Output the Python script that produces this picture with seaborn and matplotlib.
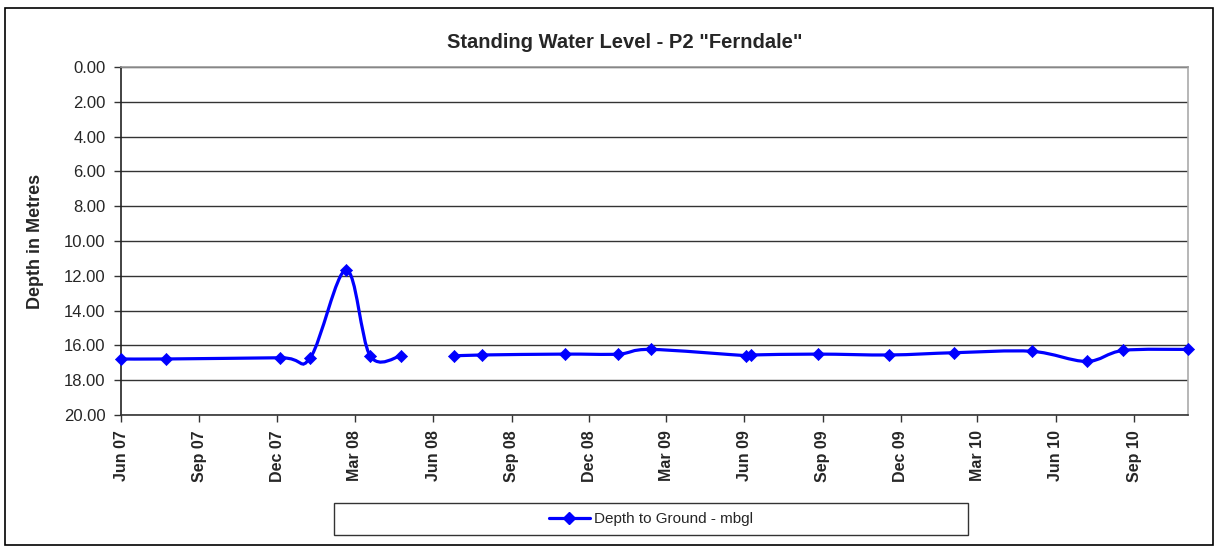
import matplotlib
matplotlib.use("Agg")
import matplotlib.pyplot as plt
import matplotlib.dates as mdates
from matplotlib.path import Path
from matplotlib.patches import PathPatch, Rectangle
from matplotlib.lines import Line2D
import numpy as np
import pandas as pd
import seaborn as sns

# two measurement runs (the gap between Apr 08 and Jun 08 is a break in the line)
dates_a = ["2007-06-01", "2007-07-24", "2007-12-05", "2008-01-09", "2008-02-20",
           "2008-03-19", "2008-04-24"]
depth_a = [16.78, 16.78, 16.71, 16.70, 11.66, 16.59, 16.61]

dates_b = ["2008-06-25", "2008-07-28", "2008-11-02", "2009-01-04", "2009-02-11",
           "2009-06-03", "2009-06-09", "2009-08-26", "2009-11-18", "2010-02-02",
           "2010-05-04", "2010-07-07", "2010-08-19", "2010-11-03"]
depth_b = [16.61, 16.55, 16.50, 16.50, 16.23, 16.59, 16.55, 16.50, 16.55, 16.42,
           16.34, 16.92, 16.29, 16.23]

y_ticks = [0, 2, 4, 6, 8, 10, 12, 14, 16, 18, 20]
series_name = "Depth to Ground - mbgl"
blue = "#0000FF"

sns.set_style("white")
plt.rcParams["font.family"] = ["Liberation Sans", "DejaVu Sans"]

df = pd.concat([
    pd.DataFrame({"date": pd.to_datetime(dates_a), "depth": depth_a, "run": "a"}),
    pd.DataFrame({"date": pd.to_datetime(dates_b), "depth": depth_b, "run": "b"}),
])

fig = plt.figure(figsize=(12.25, 5.48), dpi=100)
ax = fig.add_axes([121 / 1225, 1 - 415 / 548, (1188 - 121) / 1225, (415 - 67) / 548])


def smooth_path(x, y):
    # Excel-style smoothed line: Catmull-Rom segments as cubic Beziers
    p = np.column_stack([x, y])
    pts = np.vstack([p[0], p, p[-1]])
    verts = [p[0]]
    codes = [Path.MOVETO]
    for i in range(1, len(pts) - 2):
        c1 = pts[i] + (pts[i + 1] - pts[i - 1]) / 6
        c2 = pts[i + 1] - (pts[i + 2] - pts[i]) / 6
        verts += [c1, c2, pts[i + 1]]
        codes += [Path.CURVE4] * 3
    return Path(verts, codes)


for run, grp in df.groupby("run"):
    xs = mdates.date2num(grp["date"])
    ax.add_patch(PathPatch(smooth_path(xs, grp["depth"].values), facecolor="none",
                           edgecolor=blue, lw=2.3, zorder=3, clip_on=False))

sns.scatterplot(data=df, x="date", y="depth", marker="D", s=38, color=blue,
                edgecolor=blue, linewidth=0.5, zorder=4, ax=ax, legend=False,
                clip_on=False)

ax.set_xlim(pd.Timestamp("2007-06-01"), pd.Timestamp("2010-11-03"))
ax.set_ylim(20, 0)
ax.set_yticks(y_ticks)
ax.yaxis.set_major_formatter(plt.FuncFormatter(lambda v, p: f"{v:.2f}"))
ax.xaxis.set_major_locator(mdates.MonthLocator(bymonth=[3, 6, 9, 12]))
ax.xaxis.set_major_formatter(mdates.DateFormatter("%b %y"))
ax.set_xlabel("")
ax.set_ylabel("")

ax.grid(axis="y", color="#333333", lw=1.0)
ax.set_axisbelow(True)
ax.tick_params(axis="y", left=True, length=5, width=1, color="#333333",
               labelsize=12, pad=6)
ax.tick_params(axis="x", bottom=True, length=5, width=1, color="#333333",
               labelsize=11.5, pad=6)
for lab in ax.get_xticklabels():
    lab.set_rotation(90)
    lab.set_fontweight("bold")
ax.spines["left"].set_color("#222222")
ax.spines["bottom"].set_color("#333333")
ax.spines["top"].set_color("#999999")
ax.spines["right"].set_color("#aaaaaa")
for s in ax.spines.values():
    s.set_linewidth(1.2)

fig.text(625 / 1225, 1 - 43 / 548, 'Standing Water Level - P2 "Ferndale"',
         ha="center", va="center", fontsize=14.5, fontweight="bold")
fig.text(35 / 1225, 1 - 241 / 548, "Depth in Metres", rotation=90,
         ha="center", va="center", fontsize=13, fontweight="bold")

# outer chart border and legend box
fig.patches.append(Rectangle((5 / 1225, 3 / 548), 1208 / 1225, 537 / 548,
                             transform=fig.transFigure, fill=False,
                             edgecolor="black", lw=1.2))
fig.patches.append(Rectangle((334 / 1225, 1 - 535 / 548), 634 / 1225, 32 / 548,
                             transform=fig.transFigure, fill=False,
                             edgecolor="#333333", lw=1.0))
handle = Line2D([], [], color=blue, lw=2.3, marker="D", markersize=6)
fig.legend([handle], [series_name], loc="center",
           bbox_to_anchor=(651 / 1225, 1 - 519 / 548), frameon=False,
           fontsize=11, handlelength=2.7, handletextpad=0.3)

fig.savefig("out.png", dpi=100)
